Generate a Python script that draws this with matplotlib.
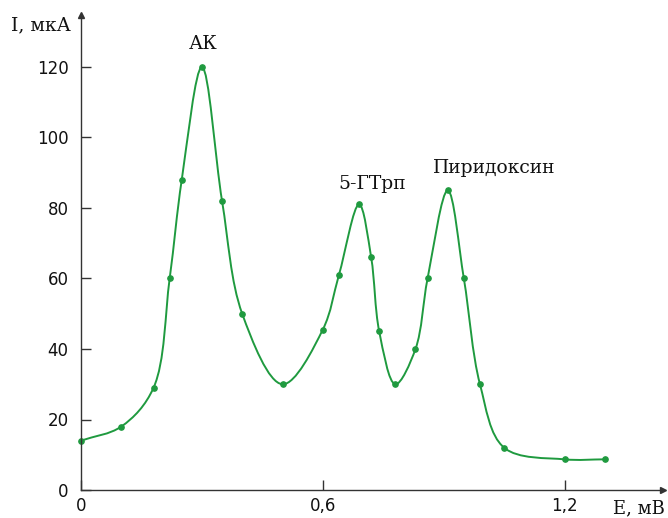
import numpy as np
import matplotlib
matplotlib.use('Agg')
from matplotlib import pyplot as plt
from matplotlib.path import Path
from matplotlib.patches import PathPatch

# Данные (E, мВ ; I, мкА)
potential = [0, 0.10, 0.18, 0.22, 0.25, 0.30, 0.35, 0.40, 0.50, 0.60, 0.64, 0.69,
             0.72, 0.74, 0.78, 0.83, 0.86, 0.91, 0.95, 0.99, 1.05, 1.20, 1.30]
current = [14, 18, 29, 60, 88, 120, 82, 50, 30, 45.5, 61, 81,
           66, 45, 30, 40, 60, 85, 60, 30, 12, 8.7, 8.7]

peak_labels = ['АК', '5-ГТрп', 'Пиридоксин']
peak_pos = [(0.303, 126.5), (0.722, 86.8), (1.025, 91.3)]

x_ticks = [0, 0.6, 1.2]
x_ticklabels = ['0', '0,6', '1,2']
y_ticks = [0, 20, 40, 60, 80, 100, 120]

green = '#1f9a3f'
axis_col = '#333333'


# гладкая кривая через точки (центростремительный Catmull-Rom -> Безье)
def smooth_path(ax, xs, ys, alpha=0.5):
    trans = ax.transData
    pts = trans.transform(np.column_stack([xs, ys]))
    P = np.vstack([2 * pts[0] - pts[1], pts, 2 * pts[-1] - pts[-2]])
    verts = [pts[0]]
    codes = [Path.MOVETO]
    for i in range(1, len(P) - 2):
        p0, p1, p2, p3 = P[i - 1], P[i], P[i + 1], P[i + 2]
        d1 = np.linalg.norm(p1 - p0) ** alpha
        d2 = np.linalg.norm(p2 - p1) ** alpha
        d3 = np.linalg.norm(p3 - p2) ** alpha
        b1 = (d1**2 * p2 - d2**2 * p0 + (2*d1**2 + 3*d1*d2 + d2**2) * p1) / (3*d1*(d1 + d2))
        b2 = (d3**2 * p1 - d2**2 * p3 + (2*d3**2 + 3*d3*d2 + d2**2) * p2) / (3*d3*(d3 + d2))
        verts += [b1, b2, p2]
        codes += [Path.CURVE4] * 3
    verts = trans.inverted().transform(np.array(verts))
    return Path(verts, codes)


W, H = 668, 518
fig = plt.figure(figsize=(W / 100, H / 100), dpi=100)
x0, y0 = 81, 490
x_end, y_end = 663, 15
ax = fig.add_axes([x0 / W, (H - y0) / H, (x_end - x0) / W, (y0 - y_end) / H])
ax.set_xlim(0, (x_end - x0) / 403)
ax.set_ylim(0, (y0 - y_end) / 3.525)

for s in ['top', 'right']:
    ax.spines[s].set_visible(False)
for s in ['left', 'bottom']:
    ax.spines[s].set_color(axis_col)
    ax.spines[s].set_linewidth(1.0)

# стрелки на осях
ax.plot(1, 0, '>', color=axis_col, ms=4, transform=ax.transAxes, clip_on=False)
ax.plot(0, 1, '^', color=axis_col, ms=4, transform=ax.transAxes, clip_on=False)

ax.set_xticks(x_ticks)
ax.set_xticklabels(x_ticklabels)
ax.set_yticks(y_ticks)
ax.tick_params(direction='in', length=7, width=1, color=axis_col,
               labelsize=12, labelcolor='#111111')
ax.tick_params(axis='y', pad=9)
ax.tick_params(axis='x', pad=5)
for lab in ax.get_xticklabels() + ax.get_yticklabels():
    lab.set_family('DejaVu Sans')

fig.canvas.draw()
path = smooth_path(ax, potential, current)
ax.add_patch(PathPatch(path, fill=False, edgecolor=green, lw=1.4, clip_on=False))
ax.plot(potential, current, 'o', color=green, ms=3.8, clip_on=False)

for txt, (px, py) in zip(peak_labels, peak_pos):
    ax.text(px, py, txt, ha='center', va='center', fontsize=13.5,
            family='DejaVu Serif', color='#111111')

fig.text(71 / W, 1 - 25 / H, 'I, мкА', ha='right', va='center',
         fontsize=13.5, family='DejaVu Serif', color='#111111')
fig.text(665 / W, 1 - 508 / H, 'E, мВ', ha='right', va='center',
         fontsize=13, family='DejaVu Serif', color='#111111')

fig.savefig('out.png', dpi=100)
